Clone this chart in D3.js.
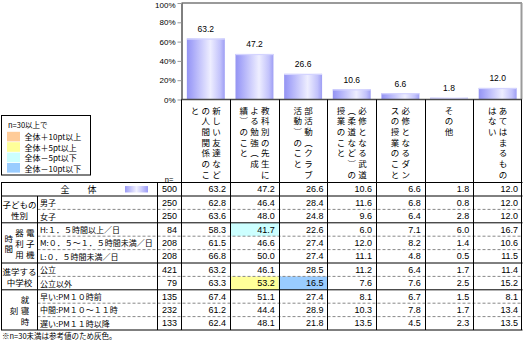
<!DOCTYPE html>
<html><head><meta charset="utf-8">
<script src="https://cdn.jsdelivr.net/npm/d3@7"></script>
<style>
html,body{margin:0;padding:0;background:#fff;}
svg{display:block;}
text{font-family:"Noto Sans CJK JP","Noto Sans",sans-serif;fill:#000;}
.num{font-family:"Liberation Sans Narrow","Liberation Sans",Arial,sans-serif;}
</style></head><body>
<svg id="c" width="523" height="340"></svg>
<script>
// ---------- data ----------
const categories = [
  "新しい友達などの人間関係のこと",
  "教科別の先生による勉強（成績）のこと",
  "部活動（クラブ活動）のこと",
  "必修となる武道（柔道など）の授業のこと",
  "必修となるダンスの授業のこと",
  "その他",
  "あてはまるものはない"
];
const totalLabel = "全　　体";
const totalN = 500;
const totalValues = [63.2, 47.2, 26.6, 10.6, 6.6, 1.8, 12.0];
const groupLabels = ["子どもの性別", "電子機器利用時間", "進学する中学校", "就寝時刻"];
const groupSizes = [2, 3, 2, 3];
const rowLabels = [
  "男子", "女子",
  "H:１．５時間以上／日", "M:０．５～１．５時間未満／日", "L:０．５時間未満／日",
  "公立", "公立以外",
  "早い:PM１０時前", "中間:PM１０～１１時", "遅い:PM１１時以降"
];
const rowN = [250, 250, 84, 208, 208, 421, 79, 135, 232, 133];
const rowValues = [
  [62.8, 46.4, 28.4, 11.6, 6.8, 0.8, 12.0],
  [63.6, 48.0, 24.8, 9.6, 6.4, 2.8, 12.0],
  [58.3, 41.7, 22.6, 6.0, 7.1, 6.0, 16.7],
  [61.5, 46.6, 27.4, 12.0, 8.2, 1.4, 10.6],
  [66.8, 50.0, 27.4, 11.1, 4.8, 0.5, 11.5],
  [63.2, 46.1, 28.5, 11.2, 6.4, 1.7, 11.4],
  [63.3, 53.2, 16.5, 7.6, 7.6, 2.5, 15.2],
  [67.4, 51.1, 27.4, 8.1, 6.7, 1.5, 8.1],
  [61.2, 44.4, 28.9, 10.3, 7.8, 1.7, 13.4],
  [62.4, 48.1, 21.8, 13.5, 4.5, 2.3, 13.5]
];
const yTicks = [0, 20, 40, 60, 80, 100];
const legendTitle = "n=30以上で";
const legendLabels = ["全体＋10pt以上", "全体＋5pt以上", "全体－5pt以下", "全体－10pt以下"];
const legendColors = ["#FFCC99", "#FFFF99", "#CCFFFF", "#99CCFF"];
const footnote = "※n=30未満は参考値のため灰色。";

// ---------- layout ----------
const svg = d3.select("#c");
const X0 = 181.5, X1 = 522, Y0 = 99.5, YTOP = 3;
const TABLE_TOP = 182.5, TOTAL_BOTTOM = 196, TABLE_BOTTOM = 330;
const GX0 = 1.5, GX1 = 37.5, NX0 = 157.5;

const x = d3.scaleBand().domain(categories).range([X0, X1]);
const y = d3.scaleLinear().domain([0, 100]).range([Y0, YTOP]);
const rowY = d3.scaleLinear().domain([0, rowLabels.length]).range([TOTAL_BOTTOM, TABLE_BOTTOM]);

const defs = svg.append("defs");
const g1 = defs.append("linearGradient").attr("id", "barGrad").attr("x1", "0").attr("x2", "1").attr("y1", "0").attr("y2", "0");
[[0, "#9494f2"], [0.12, "#a4a4f8"], [0.62, "#eeeeff"], [0.88, "#c2c2fb"], [1, "#9e9ef4"]]
  .forEach(([o, c]) => g1.append("stop").attr("offset", o).attr("stop-color", c));
const g2 = defs.append("linearGradient").attr("id", "swGrad").attr("x1", "0").attr("x2", "1");
[[0, "#9a9af6"], [0.5, "#f2f2ff"], [1, "#9a9af6"]]
  .forEach(([o, c]) => g2.append("stop").attr("offset", o).attr("stop-color", c));

// ---------- plot frame ----------
svg.append("line").attr("x1", X0).attr("x2", X1).attr("y1", YTOP).attr("y2", YTOP)
  .attr("stroke", "#9a9a9a").attr("stroke-width", 2);
svg.append("line").attr("x1", X1 - 0.5).attr("x2", X1 - 0.5).attr("y1", YTOP).attr("y2", Y0)
  .attr("stroke", "#9a9a9a").attr("stroke-width", 2);

// bars
const bw = x.bandwidth() * 0.78;
svg.append("g").selectAll("rect").data(totalValues).join("rect")
  .attr("x", (d, i) => x(categories[i]) + (x.bandwidth() - bw) / 2)
  .attr("y", d => y(d)).attr("width", bw).attr("height", d => Y0 - y(d))
  .attr("fill", "url(#barGrad)");
svg.append("g").selectAll("rect").data(totalValues).join("rect")
  .attr("x", (d, i) => x(categories[i]) + (x.bandwidth() - bw) / 2)
  .attr("y", d => y(d)).attr("width", bw).attr("height", 1.2)
  .attr("fill", "#d4d4ff");
svg.append("g").selectAll("text").data(totalValues).join("text")
  .attr("class", "num").attr("font-size", 8.5)
  .attr("x", (d, i) => x(categories[i]) + x.bandwidth() / 2)
  .attr("y", d => y(d) - 6.5).attr("text-anchor", "middle")
  .text(d => d.toFixed(1));

// y axis
const ax = svg.append("g").attr("transform", `translate(${X0},0)`)
  .call(d3.axisLeft(y).tickValues(yTicks).tickFormat(d => d + "%").tickSize(4).tickSizeOuter(0).tickPadding(2));
ax.select(".domain").attr("stroke", "#000");
ax.selectAll(".tick line").attr("stroke", "#999");
ax.selectAll(".tick text").attr("font-size", 8).attr("fill", "#000")
  .attr("dy", d => d === 100 ? "0.55em" : "0.32em")
  .style("font-family", '"Liberation Sans Narrow","Liberation Sans",Arial,sans-serif');

// baseline
svg.append("line").attr("x1", X0).attr("x2", X1).attr("y1", Y0).attr("y2", Y0)
  .attr("stroke", "#4a4a4a").attr("stroke-width", 1.6);

// ---------- vertical text helper ----------
const vmap = { "（": "︵", "）": "︶" };
function splitCols(s, max) {
  const ch = [...s], cols = [];
  let i = 0;
  while (i < ch.length) {
    let end = Math.min(i + max, ch.length);
    while (end < ch.length && "）、。".includes(ch[end]) && end > i + 1) end--;
    cols.push(ch.slice(i, end));
    i = end;
  }
  return cols;
}
function vText(parent, cols, cx, colGap, yFor, fs) {
  const n = cols.length;
  cols.forEach((col, k) => {
    const cxk = cx + (n - 1) / 2 * colGap - k * colGap;
    col.forEach((c, r) => {
      parent.append("text").attr("x", cxk).attr("y", yFor(col.length, r))
        .attr("text-anchor", "middle").attr("dominant-baseline", "central")
        .attr("font-size", fs).text(vmap[c] || c);
    });
  });
}

// category labels (vertical)
const catG = svg.append("g");
categories.forEach(c => {
  vText(catG, splitCols(c, 7), x(c) + x.bandwidth() / 2, 10.8, (len, r) => 109.5 + r * 10.7, 8.5);
});

// ---------- legend ----------
const lg = svg.append("g");
lg.append("rect").attr("x", 1.5).attr("y", 115.5).attr("width", 89).attr("height", 59.5)
  .attr("fill", "#fff").attr("stroke", "#000");
lg.append("text").attr("x", 8).attr("y", 124.5).attr("dominant-baseline", "central")
  .attr("font-size", 7.5).text(legendTitle);
legendLabels.forEach((l, i) => {
  lg.append("rect").attr("x", 7).attr("y", 131.8 + i * 10.4).attr("width", 13).attr("height", 9.6)
    .attr("fill", legendColors[i]);
  lg.append("text").attr("x", 24.5).attr("y", 136.8 + i * 10.4).attr("dominant-baseline", "central")
    .attr("font-size", 8).text(l);
});

// ---------- table ----------
const tg = svg.append("g");
const hiIdx = (v, t) => { const d = v - t; return d >= 10 ? 0 : d >= 5 ? 1 : d <= -10 ? 3 : d <= -5 ? 2 : -1; };
rowValues.forEach((vals, r) => vals.forEach((v, c) => {
  const h = rowN[r] >= 30 ? hiIdx(v, totalValues[c]) : -1;
  if (h >= 0) tg.append("rect").attr("x", x(categories[c])).attr("y", rowY(r))
    .attr("width", x.bandwidth()).attr("height", rowY(r + 1) - rowY(r)).attr("fill", legendColors[h]);
}));

let acc = 0;
const groupStarts = [];
groupSizes.forEach(s => { groupStarts.push(acc); acc += s; });
groupStarts.forEach((st, gi) => {
  for (let k = 1; k < groupSizes[gi]; k++) {
    tg.append("line").attr("x1", GX1).attr("x2", X1).attr("y1", rowY(st + k)).attr("y2", rowY(st + k))
      .attr("stroke", "#888").attr("stroke-dasharray", "3,2");
  }
});
[TABLE_TOP, TOTAL_BOTTOM, ...groupStarts.slice(1).map(s => rowY(s)), TABLE_BOTTOM].forEach(yy => {
  tg.append("line").attr("x1", GX0 - 0.5).attr("x2", X1 + 0.5).attr("y1", yy).attr("y2", yy)
    .attr("stroke", "#000");
});
const vl = (xx, ya, yb, col) => tg.append("line").attr("x1", xx).attr("x2", xx).attr("y1", ya).attr("y2", yb).attr("stroke", col || "#000");
vl(GX0, TABLE_TOP, TABLE_BOTTOM);
vl(GX1, TOTAL_BOTTOM, TABLE_BOTTOM);
vl(NX0, TABLE_TOP, TABLE_BOTTOM);
vl(X0, Y0, TABLE_BOTTOM);
categories.forEach((c, i) => { if (i > 0) vl(Math.round(x(c)) + 0.5, Y0, TABLE_BOTTOM); });
vl(X1 - 0.5, Y0, TABLE_BOTTOM);

tg.append("text").attr("class", "num").attr("x", 169).attr("y", 179).attr("dominant-baseline", "central")
  .attr("font-size", 7.5).attr("text-anchor", "middle").text("n=");

const totalCy = (TABLE_TOP + TOTAL_BOTTOM) / 2;
tg.append("text").attr("x", 78.5).attr("y", totalCy).attr("text-anchor", "middle").attr("dominant-baseline", "central")
  .attr("font-size", 9).text(totalLabel);
tg.append("rect").attr("x", 125).attr("y", totalCy - 3.2).attr("width", 23).attr("height", 6.4).attr("fill", "url(#swGrad)");
tg.append("text").attr("class", "num").attr("x", 177).attr("y", totalCy).attr("text-anchor", "end")
  .attr("dominant-baseline", "central").attr("font-size", 9).text(totalN);
totalValues.forEach((v, c) => {
  tg.append("text").attr("class", "num").attr("x", x(categories[c]) + x.bandwidth() - 4).attr("y", totalCy)
    .attr("text-anchor", "end").attr("dominant-baseline", "central").attr("font-size", 9).text(v.toFixed(1));
});

rowLabels.forEach((l, r) => {
  const cy = (rowY(r) + rowY(r + 1)) / 2;
  tg.append("text").attr("x", 40).attr("y", cy).attr("dominant-baseline", "central").attr("font-size", 8).text(l);
  tg.append("text").attr("class", "num").attr("x", 177).attr("y", cy).attr("text-anchor", "end")
    .attr("dominant-baseline", "central").attr("font-size", 9).text(rowN[r]);
  rowValues[r].forEach((v, c) => {
    tg.append("text").attr("class", "num").attr("x", x(categories[c]) + x.bandwidth() - 4).attr("y", cy)
      .attr("text-anchor", "end").attr("dominant-baseline", "central").attr("font-size", 9)
      .attr("fill", rowN[r] >= 30 ? "#000" : "#999").text(v.toFixed(1));
  });
});

const groupCx = (GX0 + GX1) / 2;
const groupMode = ["h", "v", "h", "v"];
const groupBreak = [4, 3, 4, 3];
groupLabels.forEach((gl, gi) => {
  const ya = rowY(groupStarts[gi]), yb = rowY(groupStarts[gi] + groupSizes[gi]);
  const cy = (ya + yb) / 2;
  const ch = [...gl];
  if (groupMode[gi] === "h") {
    const lines = [ch.slice(0, groupBreak[gi]).join(""), ch.slice(groupBreak[gi]).join("")];
    lines.forEach((ln, k) => tg.append("text").attr("x", groupCx).attr("y", cy + (k - 0.5) * 11.2)
      .attr("text-anchor", "middle").attr("dominant-baseline", "central").attr("font-size", 8.5).text(ln));
  } else {
    const cols = splitCols(gl, groupBreak[gi]);
    vText(tg, cols, groupCx, 10.8, (len, r) => cy + (r - (len - 1) / 2) * 10.6, 8.5);
  }
});

svg.append("text").attr("x", 2).attr("y", 335).attr("dominant-baseline", "central")
  .attr("font-size", 7.5).text(footnote);
</script>
</body></html>
